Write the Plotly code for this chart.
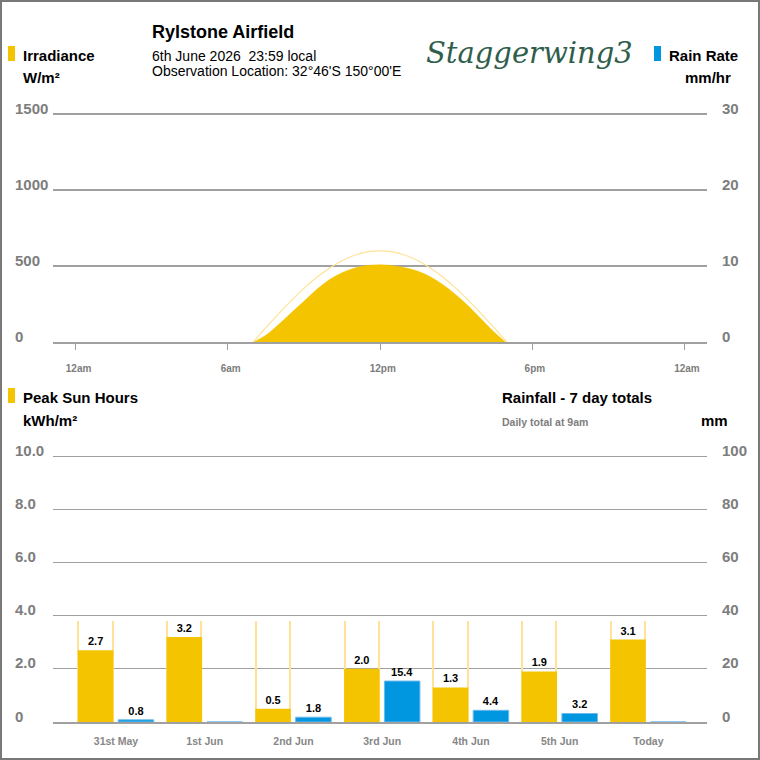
import plotly.graph_objects as go

# ---------------- data ----------------
irr_hours = [7.0, 7.5, 8.0, 8.5, 9.0, 9.5, 10.0, 10.5, 11.0, 11.5, 12.0,
             12.5, 13.0, 13.5, 14.0, 14.5, 15.0, 15.5, 16.0, 16.5, 16.95]
irradiance = [0, 45, 115, 192, 268, 345, 410, 455, 487, 503, 508,
              502, 488, 465, 428, 375, 310, 235, 150, 65, 0]

clear_hours = [7.0, 7.5, 8.0, 8.5, 9.0, 9.5, 10.0, 10.5, 11.0, 11.5, 12.0,
               12.5, 13.0, 13.5, 14.0, 14.5, 15.0, 15.5, 16.0, 16.5, 17.0]
clear_sky = [0, 94, 185, 272, 353, 424, 485, 535, 571, 593, 600,
             593, 571, 535, 485, 424, 353, 272, 185, 94, 0]

hour_ticks = [0, 6, 12, 18, 24]
hour_labels = ["12am", "6am", "12pm", "6pm", "12am"]

irr_ticks = [0, 500, 1000, 1500]
rate_ticks = [0, 10, 20, 30]

days = ["31st May", "1st Jun", "2nd Jun", "3rd Jun", "4th Jun", "5th Jun", "Today"]
sun_hours = [2.7, 3.2, 0.5, 2.0, 1.3, 1.9, 3.1]
max_sun_hours = [3.8, 3.8, 3.8, 3.8, 3.8, 3.8, 3.8]
rainfall = [0.8, 0, 1.8, 15.4, 4.4, 3.2, 0]

psh_ticks = [0, 2, 4, 6, 8, 10]
psh_labels = ["0", "2.0", "4.0", "6.0", "8.0", "10.0"]
rain_ticks = [0, 20, 40, 60, 80, 100]

# ---------------- style ----------------
YELLOW = "rgb(245,196,0)"
PALE = "rgb(255,226,150)"
BLUE = "rgb(0,150,224)"
GRID = "rgb(160,160,160)"
TICKC = "rgb(125,125,125)"
FONT = "Liberation Sans, Arial, sans-serif"

FW, FH = 760, 760
ML, MR = 53, 53
PW = FW - ML - MR

BAR_W = 0.4
SUN_OFF = -0.43
RAIN_OFF = 0.025
EDGE_W = 0.013

# plot-area pixel geometry (zero line and top tick line), plus headroom so top gridline shows
UP_ZERO, UP_TOP = 342, 114
LO_ZERO, LO_TOP = 722, 456
HEAD = 3


def px(x):
    return (x - ML) / PW


def py(y):
    return 1 - y / FH


up_scale = (UP_ZERO - UP_TOP + HEAD) / (UP_ZERO - UP_TOP)
lo_scale = (LO_ZERO - LO_TOP + HEAD) / (LO_ZERO - LO_TOP)

fig = go.Figure()

# upper chart
fig.add_trace(go.Scatter(x=irr_hours, y=irradiance, mode="lines", fill="tozeroy",
                         line_shape="spline", fillcolor=YELLOW, line=dict(color=YELLOW, width=0.5),
                         xaxis="x", yaxis="y", hoverinfo="skip", showlegend=False))
fig.add_trace(go.Scatter(x=clear_hours, y=clear_sky, mode="lines", line_shape="spline",
                         line=dict(color=PALE, width=1.2),
                         xaxis="x", yaxis="y", hoverinfo="skip", showlegend=False))
fig.add_trace(go.Scatter(x=[], y=[], xaxis="x", yaxis="y2", showlegend=False))

# lower chart: side edges of the clear-sky (max) sun-hour bars
for off in (SUN_OFF, SUN_OFF + BAR_W - EDGE_W):
    fig.add_trace(go.Bar(x=days, y=max_sun_hours, width=EDGE_W, offset=off,
                         marker=dict(color=PALE, line=dict(width=0)),
                         xaxis="x2", yaxis="y3", hoverinfo="skip", showlegend=False))
fig.add_trace(go.Bar(x=days, y=sun_hours, width=BAR_W, offset=SUN_OFF,
                     marker=dict(color=YELLOW, line=dict(width=0)),
                     text=[f"{v:.1f}" for v in sun_hours], textposition="outside",
                     textfont=dict(family=FONT, size=11, color="black", weight="bold"),
                     cliponaxis=False,
                     xaxis="x2", yaxis="y3", showlegend=False))
fig.add_trace(go.Bar(x=days, y=rainfall, width=BAR_W, offset=RAIN_OFF,
                     marker=dict(color=BLUE, line=dict(color="rgb(110,185,235)", width=1)),
                     text=[f"{v:.1f}" if v > 0 else "" for v in rainfall], textposition="outside",
                     textfont=dict(family=FONT, size=11, color="black", weight="bold"),
                     cliponaxis=False,
                     xaxis="x2", yaxis="y4", showlegend=False))

axis_common = dict(showgrid=False, zeroline=False, fixedrange=True)

fig.update_layout(
    width=FW, height=FH,
    margin=dict(l=ML, r=MR, t=0, b=0, autoexpand=False),
    paper_bgcolor="white", plot_bgcolor="white",
    font=dict(family=FONT),
    barmode="overlay",
    xaxis=dict(domain=[0, 1], anchor="y", range=[-0.9, 24.9], tickvals=hour_ticks,
               ticktext=["\u00a0\u00a0" + t for t in hour_labels], ticks="outside", ticklen=6,
               tickcolor=GRID,
               tickfont=dict(size=10, color=TICKC, weight="bold"), ticklabelstandoff=10,
               showline=True, linecolor=GRID, linewidth=1.5, **axis_common),
    yaxis=dict(domain=[py(UP_ZERO), py(UP_TOP - HEAD)], anchor="x",
               range=[0, max(irr_ticks) * up_scale], tickvals=irr_ticks,
               showticklabels=False, showgrid=True, gridcolor=GRID, gridwidth=1.5,
               zeroline=False, fixedrange=True),
    yaxis2=dict(overlaying="y", side="right", anchor="x",
                range=[0, max(rate_ticks) * up_scale], tickvals=rate_ticks,
                showticklabels=False, **axis_common),
    xaxis2=dict(domain=[0, 1], anchor="y3", type="category", range=[-0.71, 6.66],
                tickfont=dict(size=10.5, color="rgb(135,135,135)", weight="bold"),
                ticklabelstandoff=9, showline=True, linecolor=GRID, linewidth=1.5,
                **axis_common),
    yaxis3=dict(domain=[py(LO_ZERO), py(LO_TOP - HEAD)], anchor="x2",
                range=[0, max(psh_ticks) * lo_scale], tickvals=psh_ticks,
                showticklabels=False, showgrid=True, gridcolor=GRID, gridwidth=1.2,
                zeroline=False, fixedrange=True),
    yaxis4=dict(overlaying="y3", side="right", anchor="x2",
                range=[0, max(rain_ticks) * lo_scale], tickvals=rain_ticks,
                showticklabels=False, **axis_common),
)

ann = []
tick_font = dict(family=FONT, size=15, color=TICKC, weight="bold")
for v in irr_ticks:
    ann.append(dict(x=px(13), y=v, xref="paper", yref="y", text=str(v), showarrow=False,
                    xanchor="left", yanchor="middle", yshift=6, font=tick_font))
for v in rate_ticks:
    ann.append(dict(x=px(720), y=v, xref="paper", yref="y2", text=str(v), showarrow=False,
                    xanchor="left", yanchor="middle", yshift=6, font=tick_font))
for v, t in zip(psh_ticks, psh_labels):
    ann.append(dict(x=px(13), y=v, xref="paper", yref="y3", text=t, showarrow=False,
                    xanchor="left", yanchor="middle", yshift=6, font=tick_font))
for v in rain_ticks:
    ann.append(dict(x=px(720), y=v, xref="paper", yref="y4", text=str(v), showarrow=False,
                    xanchor="left", yanchor="middle", yshift=6, font=tick_font))


def label(text, x, y, size=15, color="black", weight="bold", anchor="left", family=FONT, style="normal"):
    ann.append(dict(x=px(x), y=py(y), xref="paper", yref="paper", text=text, showarrow=False,
                    xanchor=anchor, yanchor="middle",
                    font=dict(family=family, size=size, color=color, weight=weight, style=style)))


label("Rylstone Airfield", 150, 32, size=18)
label("6th June 2026 \u00a023:59 local", 150, 56, size=14, weight="normal")
label("Observation Location: 32°46'S 150°00'E", 150, 71, size=14, weight="normal")
label("Staggerwing3", 529, 53, size=29, color="rgb(47,94,76)", weight="normal",
      anchor="center", family="DejaVu Serif", style="italic")
label("Irradiance", 21, 55)
label("W/m²", 21, 77)
label("Rain Rate", 667, 55)
label("mm/hr", 733, 78, anchor="right")
label("Peak Sun Hours", 21, 397)
label("kWh/m²", 21, 420)
label("Rainfall - 7 day totals", 500, 397)
label("Daily total at 9am", 500, 422, size=10.5, color="rgb(125,125,125)")
label("mm", 730, 420, anchor="right")

fig.update_layout(annotations=ann)

shapes = [
    dict(type="rect", xref="paper", yref="paper", x0=px(8), x1=px(15), y0=py(61), y1=py(46),
         fillcolor=YELLOW, line=dict(width=0)),
    dict(type="rect", xref="paper", yref="paper", x0=px(654), x1=px(661), y0=py(61), y1=py(46),
         fillcolor=BLUE, line=dict(width=0)),
    dict(type="rect", xref="paper", yref="paper", x0=px(8), x1=px(15), y0=py(403), y1=py(388),
         fillcolor=YELLOW, line=dict(width=0)),
    dict(type="rect", xref="paper", yref="paper", x0=px(1), x1=px(759), y0=py(759), y1=py(1),
         fillcolor="rgba(0,0,0,0)", line=dict(color="rgb(120,120,120)", width=2)),
]
fig.update_layout(shapes=shapes)

fig.write_html("out.html", config={"displayModeBar": False},
               post_script="document.body.style.margin='0';")
